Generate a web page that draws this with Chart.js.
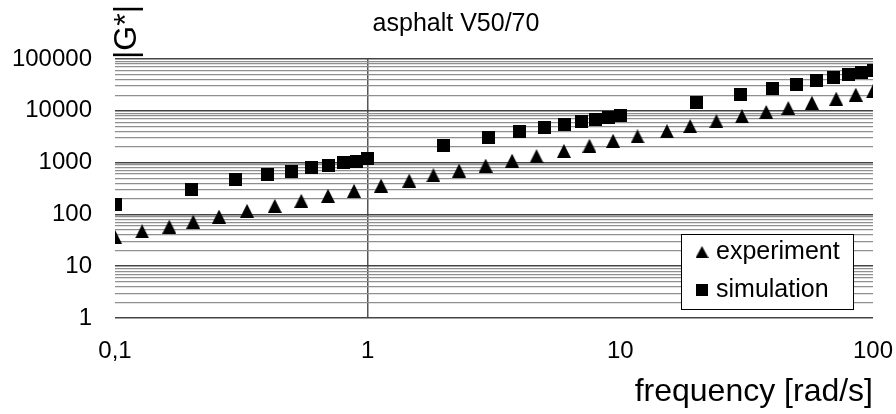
<!DOCTYPE html>
<html>
<head>
<meta charset="utf-8">
<script src="https://cdn.jsdelivr.net/npm/chart.js@4.4.1/dist/chart.umd.min.js"></script>
<style>
  html, body { margin: 0; padding: 0; background: #fff; }
</style>
</head>
<body>
<canvas id="gChart" width="896" height="414"></canvas>
<script>
// values
const expFreq = [0.1, 0.128, 0.164, 0.204, 0.258, 0.333, 0.429, 0.546, 0.697, 0.883,
                 1.13, 1.46, 1.82, 2.30, 2.93, 3.73, 4.66, 5.98, 7.55, 9.36,
                 11.7, 15.3, 18.9, 24.0, 30.3, 37.8, 46.2, 57.3, 71.5, 85.5, 100];
const expG = [37, 47, 58, 72, 91, 117, 146, 183, 228, 285,
              360, 450, 571, 701, 875, 1090, 1330, 1680, 2120, 2640,
              3200, 4050, 5060, 6310, 7840, 9490, 11300, 14300, 17100, 20500, 23800];

const simFreq = [0.1, 0.2, 0.3, 0.4, 0.5, 0.6, 0.7, 0.8, 0.9, 1,
                 2, 3, 4, 5, 6, 7, 8, 9, 10,
                 20, 30, 40, 50, 60, 70, 80, 90, 100];
const simG = [155, 308, 474, 592, 685, 790, 883, 1000, 1069, 1188,
              2173, 3100, 3908, 4810, 5500, 6090, 6800, 7340, 8000,
              14660, 20900, 26600, 32200, 38800, 44300, 50200, 54100, 59300];

const xTicks = [0.1, 1, 10, 100];
const yTicks = [1, 10, 100, 1000, 10000, 100000];
const minorSteps = [2, 3, 4, 5, 6, 7, 8, 9];

const seriesLabels = ['experiment', 'simulation'];
const titleText = 'asphalt V50/70';
const xTitle = 'frequency [rad/s]';
const yTitle = '|G*|';

const FONT = '"Liberation Sans", Arial, Helvetica, sans-serif';
Chart.defaults.font.family = FONT;
Chart.defaults.color = '#000';

function makeTriangle(w, h) {
    const c = document.createElement('canvas');
    c.width = w; c.height = h;
    const g = c.getContext('2d');
    g.fillStyle = '#000';
    g.beginPath();
    g.moveTo(w / 2, 0);
    g.lineTo(w, h);
    g.lineTo(0, h);
    g.closePath();
    g.fill();
    return c;
}

function makeSquare(s) {
    const c = document.createElement('canvas');
    c.width = s; c.height = s;
    const g = c.getContext('2d');
    g.fillStyle = '#000';
    g.fillRect(0, 0, s, s);
    return c;
}

const triMark = makeTriangle(14, 14);
const sqMark = makeSquare(13);
const legendMarks = [makeTriangle(13, 12), makeSquare(12)];

const toPoints = (xs, ys) => xs.map((x, i) => ({ x: x, y: ys[i] }));

// chart title (a bit left of the plot centre) and |G*| written sideways above the y axis
const textPlugin = {
    id: 'extraText',
    afterDraw(chart) {
        const { ctx, chartArea } = chart;
        ctx.save();
        ctx.fillStyle = '#000';
        ctx.font = '25px ' + FONT;
        ctx.textAlign = 'center';
        ctx.textBaseline = 'middle';
        ctx.fillText(titleText, (chartArea.left + chartArea.right) / 2 - 38, chartArea.top - 35);

        ctx.font = '32px ' + FONT;
        ctx.translate(chartArea.left + 20.5, chartArea.top - 27);
        ctx.rotate(-Math.PI / 2);
        ctx.textAlign = 'center';
        ctx.textBaseline = 'alphabetic';
        ctx.fillText(yTitle, 0, 0);
        ctx.restore();
    }
};

// boxed legend inside the plot, lower right
const boxLegendPlugin = {
    id: 'boxLegend',
    afterDraw(chart) {
        const { ctx, chartArea } = chart;
        const sets = chart.data.datasets;
        ctx.save();
        ctx.font = '25px ' + FONT;
        const textW = Math.max(...sets.map(d => ctx.measureText(d.label).width));
        const w = Math.round(35 + textW + 13), h = 75;
        const left = Math.round(chartArea.right - 20 - w);
        const top = Math.round(chartArea.bottom - 9 - h);
        ctx.fillStyle = '#fff';
        ctx.fillRect(left, top, w, h);
        ctx.strokeStyle = '#000';
        ctx.lineWidth = 1;
        ctx.strokeRect(left + 0.5, top + 0.5, w, h);
        sets.forEach((d, i) => {
            const y = top + 18 + i * 38;
            const m = legendMarks[i];
            ctx.drawImage(m, left + 21 - m.width / 2, y - m.height / 2);
            ctx.fillStyle = '#000';
            ctx.textAlign = 'left';
            ctx.textBaseline = 'middle';
            ctx.fillText(d.label, left + 35, y);
        });
        ctx.restore();
    }
};

new Chart(document.getElementById('gChart'), {
    type: 'scatter',
    data: {
        datasets: [
            {
                label: seriesLabels[0],
                data: toPoints(expFreq, expG),
                pointStyle: triMark,
                backgroundColor: '#000',
                borderColor: '#000',
                showLine: false
            },
            {
                label: seriesLabels[1],
                data: toPoints(simFreq, simG),
                pointStyle: sqMark,
                backgroundColor: '#000',
                borderColor: '#000',
                showLine: false
            }
        ]
    },
    options: {
        responsive: false,
        animation: false,
        layout: { padding: { left: 0, right: 23, top: 59, bottom: 0 } },
        plugins: {
            legend: { display: false },
            tooltip: { enabled: false },
            title: { display: false }
        },
        scales: {
            x: {
                type: 'logarithmic',
                min: 0.1,
                max: 100,
                border: { display: false },
                grid: {
                    drawTicks: false,
                    color: ctx => ctx.tick && ctx.tick.value === 1 ? '#555' : 'rgba(0,0,0,0)',
                    lineWidth: 1.5
                },
                afterBuildTicks: scale => {
                    scale.ticks = xTicks.map(v => ({ value: v }));
                },
                afterFit: scale => {
                    scale.height = 96;
                    scale.paddingLeft = 0;
                    scale.paddingRight = 0;
                },
                ticks: {
                    autoSkip: false,
                    maxRotation: 0,
                    padding: 19,
                    font: { size: 24 },
                    callback: v => String(v).replace('.', ',')
                },
                title: {
                    display: true,
                    text: xTitle,
                    align: 'end',
                    color: '#000',
                    font: { size: 32 },
                    padding: { top: 0, bottom: 3 }
                }
            },
            y: {
                type: 'logarithmic',
                min: 1,
                max: 100000,
                border: { display: false },
                grid: {
                    drawTicks: false,
                    color: ctx => ctx.tick && yTicks.includes(ctx.tick.value) ? '#444' : '#8f8f8f',
                    lineWidth: ctx => ctx.tick && yTicks.includes(ctx.tick.value) ? 1.5 : 1.2
                },
                afterBuildTicks: scale => {
                    const t = [];
                    yTicks.forEach((d, i) => {
                        t.push({ value: d });
                        if (i < yTicks.length - 1) minorSteps.forEach(m => t.push({ value: d * m }));
                    });
                    scale.ticks = t;
                },
                afterFit: scale => {
                    scale.width = 115;
                    scale.paddingTop = 0;
                    scale.paddingBottom = 0;
                },
                ticks: {
                    autoSkip: false,
                    padding: 23,
                    font: { size: 24 },
                    callback: v => yTicks.includes(v) ? String(v) : ''
                }
            }
        }
    },
    plugins: [textPlugin, boxLegendPlugin]
});
</script>
</body>
</html>
